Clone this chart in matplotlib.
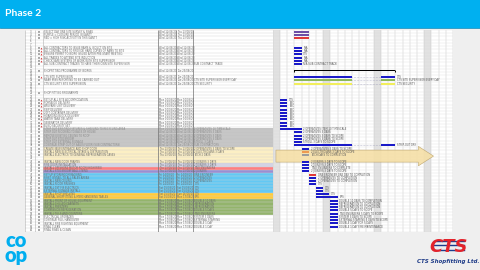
import datetime as dt

import numpy as np
import matplotlib
matplotlib.use("Agg")
import matplotlib.pyplot as plt
from matplotlib.patches import Rectangle, FancyArrow

# ------------------------------------------------------------------
# DATA
# ------------------------------------------------------------------
task_names = [
    "SELECT DAY ONE SITE SURVEY & SNAG", "PURPLE = CLOSURE PERIOD IN GANTT",
    "RED = HIGH RISK ACTIVITY IN THIS GANTT", "", "",
    "ALL CONTRACTORS TO ISSUE RAMS & INDUCT ON SITE",
    "ALL CONTRACTORS TO PROVIDE HARD COPIES OF RAMS TO SITE",
    "ENSURE PERMIT TO WORK ISSUED AFTER PRE-START MEETING",
    "ALL TRADES TO ATTEND SITE INDUCTION",
    "CHECK SAFE SYSTEMS OF WORK WITH SITE SUPERVISOR",
    "ALL SUB-CONTRACT TRADES TO HAVE THEIR OWN SITE SUPERVISOR", "",
    "SHOPFITTING PROGRAMME OF WORKS", "",
    "CTS SITE SUPERVISION", "NEAR MISS REPORTING TO BE CARRIED OUT",
    "CTS SECURITY SITE SUPERVISION", "", "", "SHOP FITTING PROGRAMME", "",
    "SET UP ALL SITE ACCOMMODATION", "PORTALOO DELIVERY", "WELFARE UNIT DELIVERY",
    "SKIP DELIVERY", "20FT CONTAINER DELIVERY", "HOARDING BLOCK DELIVERY",
    "WATER TANK DELIVERY", "GENERATOR DELIVERY", "BUND SECURITY SET",
    "STRIP OUT EXISTING FIXTURES & SHELVING TO RECYCLING AREA",
    "STRIP OUT FLOORING TO BACK OF HOUSE", "REMOVE EXISTING CEILING TO ROOF",
    "STRIP OUT STOCKROOM", "STRIP OUT EXTERNAL SIGNAGE",
    "CONTINUE STRIP OUT OF SALES FLOOR (SUB CONTRACTORS)",
    "CREATE NEW ENTRANCE AND SHOP DOOR",
    "INSTALL NEW ELECTRICAL INTAKE & DISTRIBUTION",
    "INSTALL ELECTRICS TO GENERAL REFRIGERATION CASES", "",
    "INSTALL NEW DOOR FRAMES", "FIRE DOOR INSTALLATION",
    "INSTALL OFFSHORE MOTOR ROOM (HIGH RISK)", "INSTALL STOCKROOM WALL LINING",
    "SET UP STOREROOM RACKING", "FIRST INSTALL TO ALL SALES AREAS",
    "INSTALL NEW CEILING", "INSTALL FLOOR FINISHES", "INSTALL 1ST FIX ELECTRICS",
    "EXTERNAL SIGNAGE INSTALL", "INSTALL SHOP SHELVING",
    "GENERAL SHOPFITTING & MERCHANDISING TABLES",
    "INSTALL FRONT OF HOUSE EQUIPMENT", "INSTALL CHILLED CABINETS",
    "INSTALL FREEZERS", "COMMISSION REFRIGERATION", "INSTALL TILLS AND COUNTERS",
    "ELECTRICAL UPGRADES", "CONTINUE FULL HANDOVER",
    "INSTALL FIRE FIGHTING EQUIPMENT", "FINAL CLEAN", "FINAL SNAG & CLEAN",
]

# gantt bar start column (day index) and length in days, None = no bar
bar_start = [3, 3, 3, None, None, 3, 3, 3, 3, 3, 3, None, None, None,
             3, 3, 3, None, None, None, None,
             1, 1, 1, 1, 1, 1, 1, 1, 1,
             1, 3, 3, 3, 3, 3,
             4, 4, 4, None, 4, 4, 4, 4,
             5, 5, 5, 5, 6, 6, 6, 6,
             8, 8, 8, 8, 8, 8, 8, 8, 8, None]
bar_days = [2, 2, 2, 0, 0, 1, 1, 1, 1, 1, 1, 0, 0, 0,
            8, 8, 8, 0, 0, 0, 0,
            1, 1, 1, 1, 1, 1, 1, 1, 1,
            3, 1, 1, 1, 1, 8,
            1, 1, 1, 0, 1, 1, 1, 1,
            1, 1, 1, 1, 1, 1, 1.8, 3,
            1, 1, 1, 1, 1, 1, 1, 1, 1, 0]
bar_kind = ["purple", "purple", "red", "", "", "blue", "blue", "blue", "blue", "blue",
            "blue", "", "", "", "blue", "green", "yellow", "", "", "", "",
            "blue", "blue", "blue", "blue", "blue", "blue", "blue", "blue", "blue",
            "blue", "blue", "blue", "blue", "blue", "blue",
            "blue", "orange", "grey", "", "blue", "blue", "blue", "blue",
            "red", "blue", "blue", "blue", "blue", "blue", "blue", "blue",
            "blue", "blue", "blue", "blue", "blue", "blue", "blue", "blue", "blue", ""]
bar_labels = ["", "", "", "", "", "N/A", "N/A", "CTS", "N/A", "N/A",
              "N/A SUB CONTRACT TRADE", "", "", "", "CTS",
              "CTS SITE SUPERVISOR EVERY DAY", "CTS SECURITY", "", "", "", "",
              "CTS", "TBC", "TBC", "TBC", "TBC", "TBC", "TBC", "TBC", "TBC",
              "2 OPERATIVES ITEM 10 TIMESCALE", "2 OPERATIVES 3 DAYS",
              "2 OPERATIVES 3 DAYS TO SCOPE", "2 OPERATIVES 3 DAYS TO SCOPE",
              "STROLL 3 DAYS TO SCOPE", "STRIP-OUT DRY",
              "2 OPERATIVES 3 DAYS TO SCOPE", "2 ELECTRICIANS 3 DAYS TO SCOPE",
              "TECH DAYS TO COMPLETION", "", "2 JOINERS 3 DAYS TO SCOPE",
              "2 JOINERS 3 DAYS TO SCOPE", "TWO ENGINEERS TO COMPLETE",
              "2 JOINERS 3 DAYS TO SCOPE", "ONE ENGINEER ONE DAY TO COMPLETION",
              "2 OPERATIVES TO COMPLETION", "2 OPERATIVES TO COMPLETION", "CTS",
              "CTS", "CTS", "CTS", "EPS",
              "DOUBLE 10 DAYS TO COMPLETION", "REFRIGERATION TO COMPLETION",
              "REFRIGERATION TO COMPLETION", "DOUBLE 5 DAYS TO SCOPE",
              "TWO ENGINEERS 5 DAYS TO SCOPE", "SYSTEM 3 DAYS TO SCOPE",
              "EXTERNAL STAFFING 5 DAYS TO SCOPE", "DOUBLE 1 DAY FOR 5 DAYS",
              "DOUBLE 1 DAY FIRE MAINTENANCE", ""]

resources = ["", "", "", "", "", "", "", "", "", "", "SUB CONTRACT TRADE", "", "", "",
             "", "CTS SITE SUPERVISOR EVERY DAY", "CTS SECURITY", "", "", "", "",
             "", "", "", "", "", "", "", "", "",
             "2 OPERATIVES 10 TIMESCALE", "2 OPERATIVES 3 DAYS", "2 OPERATIVES 3 DAYS",
             "2 OPERATIVES 3 DAYS", "STROLL 3 DAYS", "SUB CONTRACTORS",
             "2 OPERATIVES 3 DAYS TO SCOPE", "2 ELECTRICIANS 3 DAYS", "TECH 2 DAYS", "",
             "2 JOINERS 3 DAYS", "2 JOINERS 3 DAYS", "TWO ENGINEERS", "2 JOINERS",
             "ONE ENGINEER", "2 OPERATIVES", "2 OPERATIVES", "CTS", "CTS", "CTS",
             "CTS", "EPS", "DOUBLE 10 DAYS", "REFRIGERATION", "REFRIGERATION",
             "DOUBLE 5 DAYS", "TWO ENGINEERS", "SYSTEM 3 DAYS", "EXTERNAL STAFFING",
             "DOUBLE 1 DAY", "DOUBLE 1 DAY", ""]

# section shading of the table rows
row_fill = ([None] * 30 + ["grey"] * 6 + ["cream"] * 5 + ["lilac", "pink", "violet"]
            + ["cyan"] * 6 + ["gold"] * 2 + ["olive"] * 5 + [None] * 5)

# bars that carry on after a gap (second segment)
split_rows = [14, 15, 16, 35]
split_start = [15, 15, 15, 15]
split_days = [2, 2, 2, 2]

# summary line
summary_rows = [12]
summary_start = [3]
summary_days = [14]

high_risk_rows = [5, 6, 7, 8, 9, 14] + list(range(21, 30))

first_day = dt.date(2020, 8, 9)
n_days = 25

# ------------------------------------------------------------------
# STYLE
# ------------------------------------------------------------------
BG = "#EFEFEF"
TITLE_BLUE = "#00B0F0"
BAR_COLORS = {"blue": "#1A1AC8", "purple": "#6E4FA6", "red": "#E03A3A",
              "green": "#8DB85A", "yellow": "#F2EE5C", "orange": "#EE9A50",
              "grey": "#9C9C9C"}
FILL_COLORS = {"grey": "#C4C4C4", "cream": "#FCEFC4", "lilac": "#D3D3E4",
               "pink": "#FF7E80", "violet": "#9A8ED2", "cyan": "#62C8F4",
               "gold": "#FFCB3A", "olive": "#93B46C"}
TEXT_COL = "#6A6A6A"

W, H = 480, 270
TOP, ROW_H = 30, 3.25
N = len(task_names)
BOTTOM = TOP + N * ROW_H
X_LEFT, X_GANTT, X_RIGHT = 25, 272.7, 453
TXT = 1.8


def frac(x0, y0, x1, y1):
    return [x0 / W, 1 - y1 / H, (x1 - x0) / W, (y1 - y0) / H]


def day_label(c):
    return (first_day + dt.timedelta(days=int(c))).strftime("%a %d/%m/%y")


fig = plt.figure(figsize=(4.8, 2.7), dpi=100)
fig.patch.set_facecolor(BG)

# ------------------------------------------------------------------
# slide decoration
# ------------------------------------------------------------------
base = fig.add_axes([0, 0, 1, 1])
base.set_xlim(0, W)
base.set_ylim(H, 0)
base.axis("off")
base.add_patch(Rectangle((0, 0), W, 27.5, color=TITLE_BLUE, lw=0))
base.plot([0, W], [27.8, 27.8], color="#1590C0", lw=0.6)
base.text(5, 13.5, "Phase 2", color="white", fontsize=7.5, fontweight="bold",
          family="Lato", va="center")
base.add_patch(Rectangle((X_LEFT, TOP), X_RIGHT - X_LEFT, BOTTOM - TOP,
                         color="white", lw=0))

# co-op logo
base.text(16, 248, "co\nop", color="#00AEEF", fontsize=14.5, fontweight="heavy",
          family="Lato", ha="center", va="center", linespacing=0.74)

# CTS logo
for yy in (240.5, 245, 249.5):
    base.plot([434, 464], [yy, yy], color="#1C3C8C", lw=1.0, zorder=1)
base.text(449, 252, "CTS", color="#E3232B", fontsize=13, fontweight="bold",
          style="italic", ha="center", va="baseline", family="DejaVu Sans", zorder=2)
base.text(448, 261.5, "CTS Shopfitting Ltd.", color="#1F3C88", fontsize=4.0,
          fontweight="bold", style="italic", ha="center", va="center")

# ------------------------------------------------------------------
# task table
# ------------------------------------------------------------------
tax = fig.add_axes(frac(X_LEFT, TOP, X_GANTT, BOTTOM))
tax.set_xlim(X_LEFT, X_GANTT)
tax.set_ylim(N - 0.5, -0.5)
tax.axis("off")
tax.patch.set_alpha(0)

rows = np.arange(N)
for i, f in enumerate(row_fill):
    if f:
        tax.barh(i, X_GANTT - 43, left=43, height=1, color=FILL_COLORS[f], lw=0)

tax.hlines(np.arange(N + 1) - 0.5, X_LEFT, X_GANTT, color="#D2D2D2", lw=0.3)
tax.vlines([X_LEFT, 35, 43], -0.5, N - 0.5, color="#B0B0B0", lw=0.4)
tax.vlines([158, 176, 193], -0.5, N - 0.5, color="#707070", lw=0.5)
tax.vlines([X_GANTT], -0.5, N - 0.5, color="#808080", lw=0.6)

for i in rows:
    tax.text(31, i, str(i + 3), fontsize=TXT, ha="center", va="center", color=TEXT_COL)
    name = task_names[i]
    if not name:
        continue
    tc = "#8A8A8A" if row_fill[i] == "grey" else TEXT_COL
    tax.text(44.5, i, name, fontsize=TXT, va="center", color=tc)
    tax.scatter(39, i, marker="s", s=0.9, color="#A8A8A8", lw=0)
    if bar_start[i] is not None:
        tax.text(159, i, day_label(bar_start[i]), fontsize=TXT, va="center", color=tc)
        end = bar_start[i] + bar_days[i]
        if i in split_rows:
            k = split_rows.index(i)
            end = split_start[k] + split_days[k]
        tax.text(177, i, day_label(np.ceil(end) - 1), fontsize=TXT, va="center", color=tc)
    elif i in summary_rows:
        k = summary_rows.index(i)
        tax.text(159, i, day_label(summary_start[k]), fontsize=TXT, va="center", color=tc)
        tax.text(177, i, day_label(summary_start[k] + summary_days[k] - 1),
                 fontsize=TXT, va="center", color=tc)
    if resources[i]:
        tax.text(194.5, i, resources[i], fontsize=TXT, va="center", color=tc)

tax.scatter([40.5] * len(high_risk_rows), high_risk_rows, marker="^", s=1.6,
            color="#D42A2A", lw=0, zorder=4)

# ------------------------------------------------------------------
# gantt area
# ------------------------------------------------------------------
gax = fig.add_axes(frac(X_GANTT, TOP, X_RIGHT, BOTTOM))
gax.set_xlim(0, n_days)
gax.set_ylim(N - 0.5, -0.5)
gax.axis("off")
gax.patch.set_alpha(0)

for c in range(0, n_days, 7):
    gax.axvspan(c, c + 1, color="#E2E2E2", lw=0, zorder=0)
gax.vlines(np.arange(n_days + 1), -0.5, N - 0.5, color="#C6C6C6", lw=0.35, zorder=1)
gax.hlines(np.arange(N + 1) - 0.5, 0, n_days, color="#DADADA", lw=0.25, zorder=1)

arrow = FancyArrow(0.45, 38.3, 21.85, 0, width=3.7, head_width=6.0, head_length=2.1,
                   length_includes_head=True, facecolor="#F5DFA6", edgecolor="#B9A066",
                   lw=0.4, alpha=0.9, zorder=2)
gax.add_patch(arrow)

for i in rows:
    if bar_start[i] is None:
        continue
    col = BAR_COLORS[bar_kind[i]]
    gax.barh(i, bar_days[i], left=bar_start[i], height=0.62, color=col, lw=0, zorder=3)
    end = bar_start[i] + bar_days[i]
    if i in split_rows:
        k = split_rows.index(i)
        gax.hlines(i, end, split_start[k], color="#8888AA", lw=0.4,
                   linestyles=":", zorder=3)
        gax.barh(i, split_days[k], left=split_start[k], height=0.62, color=col,
                 lw=0, zorder=3)
        end = split_start[k] + split_days[k]
    if bar_labels[i]:
        gax.text(end + 0.25, i, bar_labels[i], fontsize=TXT, va="center",
                 color="#555555", zorder=4)

for r, s, d in zip(summary_rows, summary_start, summary_days):
    gax.barh(r, d, left=s, height=0.28, color="black", lw=0, zorder=3)
    gax.vlines([s, s + d], r - 0.2, r + 0.45, color="black", lw=0.7, zorder=3)

fig.savefig("out.png", dpi=100, facecolor=fig.get_facecolor())
